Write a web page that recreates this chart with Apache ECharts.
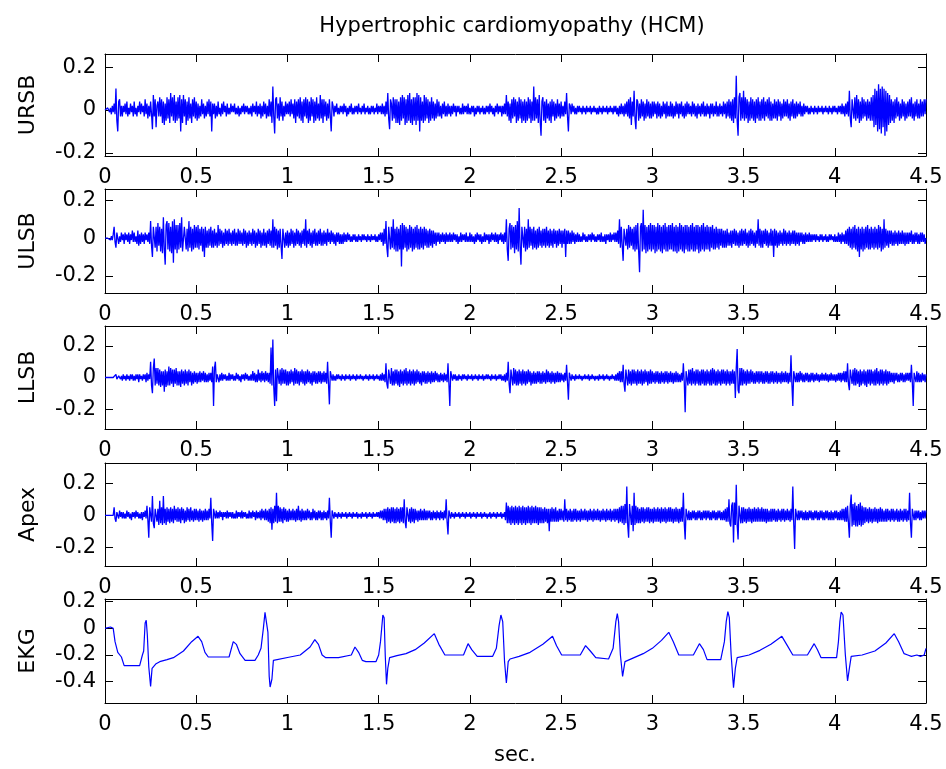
<!DOCTYPE html>
<html>
<head>
<meta charset="utf-8">
<script src="https://cdn.jsdelivr.net/npm/echarts@6/dist/echarts.min.js"></script>
<style>html,body{margin:0;padding:0;background:#fff}#c{width:946px;height:769px}</style>
</head>
<body>
<div id="c"></div>
<script>
const TIME_STEP = 0.005; // seconds between samples of the heart-sound traces (one row = 0.1 s)
const xTicks = [0,0.5,1,1.5,2,2.5,3,3.5,4,4.5];
const yTicks3 = [-0.2,0,0.2];
const yTicksEkg = [-0.4,-0.2,0,0.2];

const ursb = [
0,0,0,.01,0,-.01,.01,-.02,.02,-.01,.03,-.02,.1,-.05,-.1,.04,.05,-.03,.02,-.03,
.02,-.01,.03,-.02,.04,-.03,.01,-.02,.03,-.01,.02,-.03,.04,-.02,.01,-.03,.02,-.01,.04,-.02,
.03,-.01,.02,-.03,.05,-.02,.03,-.04,.02,-.03,.04,-.02,-.09,.07,-.03,.05,-.08,.02,.04,-.03,
.06,-.03,.05,-.06,.04,-.07,.03,-.05,.06,-.04,.05,-.06,.08,-.03,.06,-.05,.07,-.06,.04,-.05,
.06,-.04,.07,-.1,.05,-.06,.07,-.03,.05,-.07,.04,-.05,.06,-.04,.03,-.06,.05,-.03,.06,-.04,
.04,-.05,.03,-.04,.02,-.03,.05,-.02,.03,-.04,.02,-.03,.04,-.02,.05,-.03,.04,-.1,.03,-.02,
.03,-.04,.02,-.03,.04,-.02,.01,-.03,.03,-.02,.04,-.01,.02,-.03,.03,-.02,.01,-.02,.03,-.01,
.02,-.01,.03,-.02,.01,-.02,.02,-.03,.01,-.02,.02,-.01,.03,-.02,.02,-.01,.02,-.02,.01,-.02,
.02,-.03,.03,-.01,.02,-.02,.04,-.03,.02,-.02,.03,-.04,.02,-.03,.04,-.02,.03,-.04,.02,-.03,
.05,-.03,.04,-.06,.11,-.03,-.11,.05,.06,-.04,.03,-.05,.06,-.03,.04,-.05,.02,-.03,.04,-.02,
.03,-.02,.04,-.03,.05,-.02,.03,-.04,.05,-.06,.04,-.03,.05,-.04,.06,-.05,.04,-.06,.05,-.03,
.06,-.04,.05,-.06,.04,-.05,.06,-.03,.05,-.06,.04,-.05,.06,-.04,.03,-.05,.07,-.04,.05,-.06,
.05,-.03,.04,-.05,.03,-.04,.05,-.03,-.1,.04,.02,-.03,.02,-.01,.03,-.02,.01,-.02,.02,-.01,
.02,-.02,.03,-.01,.02,-.03,.01,-.02,.02,-.01,.03,-.02,.01,-.02,.02,-.01,.02,-.02,.03,-.01,
.01,-.02,.02,-.01,.03,-.02,.01,-.01,.02,-.02,.01,-.02,.02,-.01,.02,-.02,.01,-.01,.03,-.02,
.02,-.01,.02,-.02,.03,-.02,.02,-.03,.04,-.02,.08,-.04,-.09,.05,.03,-.05,.06,-.04,.05,-.06,
.05,-.06,.04,-.07,.06,-.05,.07,-.04,.06,-.07,.05,-.06,.07,-.05,.08,-.06,.05,-.07,.06,-.05,
.06,-.07,.08,-.05,.07,-.1,.06,-.05,.04,-.06,.07,-.05,.06,-.04,.05,-.06,.04,-.05,.06,-.04,
.04,-.05,.03,-.04,.05,-.03,.04,-.03,.02,-.04,.03,-.02,.04,-.03,.02,-.03,.03,-.02,.02,-.03,
.02,-.02,.03,-.01,.02,-.03,.02,-.01,.02,-.02,.01,-.02,.03,-.02,.02,-.01,.02,-.02,.03,-.02,
.01,-.02,.02,-.01,.02,-.03,.01,-.02,.02,-.01,.02,-.02,.01,-.01,.02,-.02,.01,-.02,.02,-.01,
.02,-.02,.03,-.01,.02,-.02,.01,-.03,.02,-.01,.03,-.02,.02,-.01,.02,-.03,.02,-.02,.03,-.02,
.07,-.03,.04,-.05,.03,-.06,.05,-.04,.06,-.03,.05,-.06,.04,-.05,.06,-.04,.05,-.06,.04,-.05,
.05,-.06,.04,-.05,.06,-.04,.05,-.06,.04,-.05,.11,-.05,.06,-.04,.05,-.06,.07,-.05,-.12,.04,
.06,-.05,.04,-.06,.05,-.04,.03,-.05,.04,-.06,.05,-.03,.04,-.05,.03,-.04,.05,-.03,.03,-.04,
.04,-.03,.02,-.03,.04,-.02,.08,-.03,-.1,.03,.02,-.02,.03,-.01,.02,-.02,.01,-.02,.02,-.01,
.02,-.01,.01,-.02,.02,-.01,.01,-.02,.02,-.01,.01,-.01,.02,-.02,.01,-.01,.02,-.01,.01,-.02,
.01,-.02,.02,-.01,.01,-.02,.02,-.01,.01,-.01,.02,-.02,.01,-.01,.02,-.01,.01,-.02,.02,-.01,
.02,-.02,.01,-.03,.02,-.02,.03,-.02,.02,-.03,.03,-.02,.04,-.03,.05,-.04,.06,-.07,.04,-.03,
.09,-.04,-.09,.05,.04,-.05,.03,-.04,.05,-.03,.04,-.05,.03,-.04,.05,-.03,.04,-.04,.03,-.04,
.04,-.03,.04,-.02,.03,-.04,.04,-.03,.03,-.04,.02,-.03,.04,-.02,.03,-.04,.04,-.03,.02,-.03,
.04,-.03,.03,-.04,.02,-.03,.04,-.02,.03,-.04,.03,-.02,.04,-.03,.02,-.04,.03,-.03,.04,-.02,
.03,-.02,.02,-.03,.04,-.02,.03,-.03,.02,-.04,.03,-.02,.02,-.03,.03,-.02,.04,-.03,.02,-.03,
.03,-.02,.02,-.04,.03,-.02,.03,-.03,.02,-.02,.04,-.03,.02,-.03,.03,-.02,.02,-.03,.04,-.02,
.03,-.04,.04,-.03,.05,-.04,.04,-.05,.05,-.06,.06,-.04,.16,-.05,-.12,.06,.08,-.05,.06,-.04,
.09,-.05,.06,-.04,.05,-.06,.04,-.05,.06,-.04,.05,-.05,.04,-.06,.05,-.04,.06,-.05,.04,-.05,
.05,-.04,.06,-.05,.04,-.03,.05,-.04,.06,-.05,.04,-.05,.03,-.04,.05,-.04,.04,-.05,.05,-.03,
.04,-.05,.03,-.04,.05,-.03,.04,-.03,.05,-.04,.03,-.05,.04,-.03,.05,-.04,.03,-.04,.04,-.03,
.03,-.02,.04,-.03,.02,-.03,.03,-.02,.02,-.01,.02,-.02,.01,-.02,.02,-.01,.01,-.02,.02,-.01,
.01,-.02,.02,-.01,.01,-.01,.02,-.02,.01,-.01,.02,-.01,.01,-.02,.02,-.01,.01,-.02,.02,-.01,
.02,-.01,.01,-.02,.02,-.01,.02,-.02,.03,-.02,.02,-.03,.03,-.02,.04,-.03,.09,-.04,-.08,.05,
.05,-.04,.06,-.05,.07,-.04,.05,-.06,.04,-.05,.06,-.04,.05,-.03,.04,-.05,.05,-.04,.04,-.05,
.06,-.05,.07,-.08,.1,-.07,.09,-.1,.12,-.09,.1,-.11,.11,-.08,.1,-.12,.09,-.1,.08,-.07,
.07,-.06,.05,-.05,.04,-.06,.05,-.04,.06,-.03,.04,-.05,.03,-.04,.05,-.03,.04,-.05,.03,-.04,
.04,-.03,.05,-.03,.06,-.04,.03,-.05,.04,-.03,.05,-.04,.03,-.04,.05,-.03,.04,-.03,.05,-.02,
.05];

const ulsb = [
0,0,0,0,0,.01,-.01,.01,-.01,.02,.06,-.02,-.05,.03,.02,-.03,.01,-.02,.03,-.01,
.02,-.03,.03,-.01,.02,-.02,.03,-.03,.02,-.01,.04,-.02,.03,-.02,.01,-.03,.04,-.04,.02,-.03,
.03,-.02,.02,-.03,.03,-.01,.02,-.02,.03,-.03,.09,-.04,-.1,.06,.07,-.05,.06,-.07,.08,-.04,
.06,-.07,.05,-.08,.11,-.06,-.14,.07,.09,-.06,.08,-.07,.06,-.08,.09,-.13,.1,-.06,.07,-.08,
.07,-.06,.08,-.05,.11,-.07,-.08,.06,.07,-.06,.05,-.07,.09,-.05,.06,-.07,.05,-.06,.07,-.05,
.06,-.05,.07,-.06,.05,-.04,.06,-.07,.05,-.1,.06,-.05,.04,-.05,.05,-.04,.06,-.05,.04,-.05,
.05,-.04,.03,-.05,.07,-.04,.05,-.03,.04,-.05,.03,-.04,.05,-.03,.04,-.04,.05,-.03,.03,-.04,
.04,-.03,.05,-.04,.03,-.04,.05,-.03,.04,-.03,.03,-.04,.05,-.03,.04,-.05,.03,-.04,.04,-.03,
.03,-.04,.05,-.03,.04,-.05,.03,-.04,.05,-.03,.04,-.05,.03,-.04,.05,-.04,.03,-.05,.04,-.03,
.05,-.04,.04,-.05,.1,-.05,.06,-.04,.05,-.06,.04,-.05,.05,-.04,-.11,.05,.04,-.05,.03,-.04,
.04,-.05,.03,-.04,.05,-.03,.04,-.05,.03,-.04,.05,-.03,.04,-.04,.03,-.05,.04,-.03,.05,-.04,
.1,-.05,.04,-.03,.05,-.04,.03,-.05,.04,-.03,.05,-.04,.03,-.04,.04,-.03,.05,-.04,.03,-.04,
.04,-.03,.03,-.04,.05,-.02,.03,-.03,.04,-.02,.03,-.03,.02,-.04,.03,-.02,.03,-.03,.02,-.03,
.02,-.03,.03,-.02,.02,-.02,.03,-.01,.02,-.02,.01,-.02,.02,-.01,.02,-.02,.01,-.02,.02,-.01,
.01,-.02,.02,-.01,.02,-.01,.01,-.02,.02,-.01,.01,-.02,.02,-.01,.01,-.01,.02,-.02,.01,-.02,
.02,-.01,.03,-.02,.03,-.04,.05,-.03,.09,-.05,-.1,.06,.05,-.06,.06,-.05,.1,-.06,.05,-.07,
.06,-.07,.05,-.06,.07,-.15,.08,-.06,.07,-.05,.06,-.07,.05,-.06,.07,-.05,.06,-.07,.05,-.06,
.06,-.05,.07,-.06,.05,-.06,.06,-.05,.05,-.06,.06,-.04,.05,-.05,.04,-.05,.05,-.04,.04,-.05,
.04,-.03,.03,-.04,.03,-.02,.03,-.03,.02,-.02,.03,-.02,.02,-.03,.03,-.02,.02,-.02,.03,-.02,
.02,-.02,.03,-.01,.02,-.02,.02,-.03,.01,-.02,.03,-.02,.02,-.01,.02,-.02,.03,-.02,.01,-.02,
.03,-.02,.02,-.02,.01,-.03,.02,-.02,.03,-.01,.02,-.02,.02,-.03,.01,-.02,.03,-.02,.02,-.01,
.02,-.03,.02,-.02,.03,-.01,.02,-.02,.03,-.02,.02,-.03,.02,-.01,.03,-.02,.02,-.03,.03,-.02,
.1,-.06,-.12,.05,.08,-.06,.07,-.05,.06,-.08,.07,-.06,.09,-.07,.16,-.05,-.14,.06,.07,-.05,
.06,-.07,.05,-.06,.1,-.05,.06,-.04,.05,-.06,.06,-.05,.04,-.06,.05,-.05,.06,-.04,.04,-.05,
.05,-.04,.05,-.05,.06,-.04,.04,-.05,.05,-.04,.04,-.05,.05,-.03,.04,-.05,.04,-.04,.05,-.03,
.04,-.05,.04,-.03,.05,-.1,.04,-.03,.04,-.03,.03,-.03,.04,-.02,.03,-.03,.02,-.02,.03,-.02,
.02,-.02,.01,-.02,.03,-.01,.02,-.02,.01,-.02,.02,-.01,.02,-.02,.03,-.01,.02,-.02,.01,-.02,
.02,-.01,.02,-.02,.03,-.02,.01,-.02,.02,-.03,.02,-.01,.02,-.02,.03,-.02,.02,-.01,.03,-.02,
.03,-.02,.04,-.03,.1,-.05,.06,-.04,-.12,.05,.06,-.04,.05,-.06,.07,-.05,.06,-.04,.05,-.06,
.06,-.07,.07,-.06,.08,-.07,-.18,.06,.08,-.07,.15,-.06,.07,-.08,.06,-.07,.07,-.06,.08,-.07,
.07,-.06,.07,-.08,.06,-.07,.08,-.06,.07,-.07,.06,-.08,.07,-.06,.08,-.07,.06,-.07,.07,-.06,
.07,-.06,.08,-.07,.06,-.07,.07,-.08,.06,-.07,.08,-.06,.07,-.07,.06,-.08,.07,-.06,.07,-.07,
.06,-.07,.07,-.06,.08,-.07,.06,-.07,.07,-.06,.07,-.08,.06,-.07,.07,-.06,.08,-.07,.06,-.06,
.07,-.06,.06,-.07,.06,-.05,.07,-.06,.05,-.06,.06,-.05,.05,-.06,.05,-.04,.05,-.05,.04,-.05,
.04,-.05,.05,-.04,.03,-.04,.04,-.05,.04,-.03,.05,-.04,.04,-.04,.03,-.05,.04,-.04,.05,-.04,
.04,-.03,.05,-.04,.03,-.05,.04,-.04,.05,-.03,.04,-.04,.03,-.05,.04,-.03,.1,-.04,.05,-.05,
.04,-.05,.04,-.03,.05,-.04,.04,-.05,.03,-.04,.05,-.04,.04,-.1,.05,-.04,.04,-.05,.03,-.04,
.04,-.03,.03,-.04,.05,-.03,.04,-.04,.03,-.03,.04,-.04,.03,-.03,.04,-.03,.04,-.04,.03,-.03,
.03,-.04,.03,-.02,.03,-.03,.02,-.03,.03,-.02,.02,-.02,.03,-.02,.02,-.02,.02,-.01,.02,-.02,
.02,-.01,.01,-.02,.02,-.01,.02,-.02,.01,-.01,.02,-.02,.01,-.02,.02,-.01,.02,-.01,.01,-.02,
.02,-.02,.01,-.02,.03,-.02,.02,-.03,.03,-.02,.02,-.03,.04,-.03,.05,-.04,.06,-.05,.05,-.06,
.06,-.05,.07,-.06,.05,-.07,.06,-.1,.05,-.06,.06,-.07,.05,-.06,.06,-.05,.07,-.06,.05,-.06,
.06,-.05,.05,-.06,.06,-.05,.05,-.06,.07,-.05,.06,-.07,.05,-.06,.1,-.05,.05,-.04,.04,-.05,
.04,-.03,.04,-.04,.03,-.04,.04,-.03,.03,-.04,.04,-.03,.03,-.03,.04,-.03,.03,-.04,.03,-.03,
.03,-.03,.03,-.02,.04,-.03,.02,-.03,.03,-.02,.03,-.03,.02,-.03,.03,-.02,.03,-.02,.02,-.03,
0];

const llsb = [
0,0,0,0,0,0,0,0,0,0,0,0,.02,-.01,-.02,.01,.01,-.01,.01,-.02,
.02,-.01,.01,-.02,.02,-.01,.01,-.02,.02,-.01,.02,-.02,.01,-.02,.02,-.01,.02,-.03,.02,-.01,
.01,-.02,.02,-.01,.02,-.03,.03,-.02,.02,-.01,.1,-.05,-.1,.06,.12,-.05,.06,-.04,.06,-.05,
.05,-.06,.04,-.05,.04,-.09,.05,-.06,.04,-.05,.07,-.05,.06,-.04,.05,-.06,.05,-.04,.06,-.05,
.04,-.05,.04,-.06,.05,-.04,.04,-.05,.05,-.04,.04,-.05,.05,-.03,.04,-.05,.03,-.04,.04,-.03,
.03,-.04,.03,-.03,.04,-.03,.03,-.02,.04,-.03,.03,-.03,.02,-.03,.03,-.02,.03,-.03,.07,-.18,
.06,.1,-.03,.02,.02,-.03,.02,-.02,.03,-.02,.02,-.01,.02,-.02,.01,-.02,.03,-.02,.02,-.01,
.02,-.02,.01,-.02,.03,-.01,.02,-.02,.01,-.03,.02,-.01,.02,-.02,.03,-.01,.02,-.02,.01,-.02,
.02,-.02,.04,-.02,.03,-.03,.02,-.03,.05,-.02,.03,-.03,.04,-.02,.03,-.03,.04,-.02,.03,-.03,
.03,-.04,.19,-.05,.24,-.06,-.18,.05,-.15,.06,.06,-.04,.05,-.05,.06,-.04,.05,-.04,.05,-.05,
.04,-.05,.04,-.04,.05,-.03,.04,-.05,.06,-.04,.05,-.04,.04,-.05,.04,-.03,.05,-.04,.04,-.05,
.04,-.04,.05,-.03,.04,-.04,.03,-.05,.04,-.03,.04,-.04,.03,-.04,.04,-.03,.04,-.04,.03,-.03,
.04,-.03,.03,-.04,.1,-.04,-.17,.04,.03,-.02,.02,-.02,.01,-.02,.02,-.01,.02,-.01,.01,-.02,
.02,-.01,.01,-.02,.02,-.01,.01,-.01,.02,-.02,.01,-.01,.02,-.01,.01,-.02,.02,-.01,.01,-.01,
.02,-.01,.01,-.02,.01,-.01,.02,-.01,.01,-.02,.02,-.01,.01,-.01,.02,-.02,.01,-.01,.02,-.01,
.01,-.02,.02,-.02,.03,-.02,.02,-.03,.09,-.04,-.07,.05,.05,-.04,.06,-.05,.04,-.05,.05,-.04,
.05,-.05,.04,-.06,.05,-.04,.04,-.05,.05,-.04,.06,-.05,.04,-.04,.05,-.05,.04,-.04,.05,-.05,
.04,-.04,.05,-.03,.04,-.04,.03,-.05,.04,-.03,.04,-.04,.03,-.04,.04,-.03,.03,-.04,.04,-.03,
.03,-.03,.04,-.02,.03,-.03,.02,-.03,.03,-.02,.02,-.03,.03,-.02,.02,-.03,.09,-.04,-.18,.04,
.03,-.02,.02,-.01,.02,-.02,.01,-.02,.02,-.01,.01,-.02,.02,-.01,.02,-.01,.01,-.02,.02,-.01,
.01,-.01,.02,-.02,.01,-.01,.02,-.01,.01,-.02,.02,-.01,.01,-.01,.02,-.02,.01,-.01,.02,-.01,
.02,-.01,.01,-.02,.02,-.01,.01,-.01,.02,-.02,.01,-.01,.02,-.01,.02,-.02,.01,-.02,.02,-.03,
.03,-.02,.1,-.04,-.1,.05,.04,-.05,.06,-.04,.05,-.05,.04,-.05,.05,-.04,.04,-.05,.05,-.04,
.04,-.05,.04,-.04,.05,-.03,.04,-.05,.03,-.04,.04,-.04,.03,-.04,.04,-.03,.04,-.04,.03,-.04,
.04,-.03,.03,-.04,.05,-.03,.04,-.03,.03,-.04,.04,-.03,.03,-.04,.03,-.03,.04,-.03,.03,-.03,
.03,-.02,.02,-.03,.03,-.02,.08,-.03,-.14,.03,.02,-.02,.02,-.01,.01,-.02,.02,-.01,.01,-.01,
.02,-.01,.01,-.02,.01,-.01,.02,-.01,.01,-.01,.02,-.02,.01,-.01,.02,-.01,.01,-.02,.01,-.01,
.01,-.02,.02,-.01,.01,-.01,.02,-.02,.01,-.01,.02,-.01,.01,-.02,.01,-.01,.02,-.01,.01,-.02,
.02,-.02,.03,-.02,.04,-.03,.04,-.03,.08,-.04,-.09,.05,.06,-.05,.05,-.04,.04,-.05,.05,-.04,
.05,-.04,.04,-.05,.05,-.04,.04,-.04,.05,-.05,.04,-.04,.05,-.03,.04,-.05,.04,-.04,.05,-.04,
.04,-.03,.03,-.04,.04,-.03,.04,-.04,.03,-.04,.04,-.03,.03,-.04,.04,-.03,.04,-.04,.03,-.03,
.04,-.03,.03,-.04,.03,-.03,.04,-.03,.03,-.03,.02,-.03,.03,-.02,.09,-.03,-.22,.04,.04,-.05,
.05,-.04,.05,-.05,.06,-.04,.04,-.05,.05,-.04,.05,-.05,.04,-.05,.05,-.04,.05,-.05,.04,-.05,
.05,-.04,.04,-.05,.05,-.05,.06,-.04,.05,-.05,.04,-.05,.05,-.04,.04,-.05,.05,-.04,.05,-.04,
.04,-.05,.05,-.04,.04,-.05,.04,-.04,.05,-.04,.04,-.13,.06,.18,-.08,-.1,.06,-.05,.06,-.05,
.05,-.04,.04,-.05,.05,-.04,.04,-.04,.05,-.03,.04,-.04,.03,-.04,.04,-.03,.04,-.04,.04,-.03,
.04,-.04,.03,-.04,.04,-.03,.04,-.04,.03,-.04,.04,-.03,.04,-.04,.03,-.03,.04,-.04,.03,-.03,
.03,-.04,.04,-.03,.03,-.03,.04,-.03,.03,-.04,.03,-.03,.14,-.04,-.18,.04,.04,-.03,.03,-.03,
.03,-.03,.04,-.02,.03,-.03,.02,-.03,.03,-.02,.03,-.03,.02,-.03,.03,-.02,.03,-.03,.02,-.02,
.03,-.02,.02,-.03,.02,-.02,.03,-.02,.02,-.02,.03,-.02,.02,-.03,.02,-.02,.03,-.02,.02,-.02,
.02,-.03,.02,-.02,.03,-.02,.03,-.03,.03,-.02,.04,-.03,.04,-.03,.09,-.04,-.08,.05,.05,-.04,
.05,-.05,.06,-.05,.05,-.04,.04,-.06,.05,-.05,.04,-.04,.05,-.05,.04,-.06,.05,-.04,.05,-.05,
.05,-.04,.04,-.05,.05,-.05,.06,-.04,.04,-.05,.05,-.04,.05,-.05,.04,-.04,.05,-.05,.04,-.04,
.04,-.03,.03,-.03,.03,-.04,.03,-.02,.03,-.03,.02,-.03,.03,-.02,.03,-.03,.02,-.03,.03,-.02,
.03,-.02,.03,-.03,.08,-.03,-.18,.03,.03,-.03,.04,-.03,.03,-.03,.02,-.03,.03,-.02,.02,-.03,
.02];

const apex = [
0,0,0,0,0,0,0,0,0,0,.05,-.02,-.04,.02,.02,-.02,.03,-.01,.02,-.02,
.02,-.02,.01,-.02,.03,-.01,.02,-.02,.01,-.03,.02,-.01,.02,-.02,.03,-.01,.02,-.02,.01,-.02,
.02,-.03,.02,-.01,.03,-.02,.06,-.03,-.14,.05,.06,-.04,.12,-.05,-.08,.04,.05,-.04,.04,-.06,
.09,-.05,.05,-.06,.12,-.05,.04,-.06,.05,-.04,.04,-.05,.05,-.04,.04,-.05,.06,-.03,.04,-.04,
.05,-.04,.04,-.05,.05,-.03,.04,-.05,.03,-.04,.05,-.03,.04,-.04,.05,-.03,.03,-.04,.04,-.03,
.04,-.03,.03,-.04,.04,-.03,.03,-.04,.03,-.03,.04,-.03,.03,-.03,.04,-.02,.11,-.05,-.16,.04,
.03,-.02,.03,-.02,.02,-.02,.03,-.01,.02,-.03,.02,-.01,.02,-.02,.03,-.02,.02,-.01,.02,-.02,
.02,-.02,.01,-.02,.03,-.02,.02,-.01,.02,-.02,.03,-.02,.02,-.01,.02,-.02,.01,-.02,.03,-.02,
.02,-.02,.03,-.01,.02,-.03,.03,-.02,.02,-.02,.03,-.03,.04,-.02,.03,-.03,.04,-.03,.03,-.04,
.04,-.05,.05,-.09,.04,-.05,.06,-.04,.14,-.05,.06,-.04,.05,-.04,.04,-.05,.05,-.03,.04,-.04,
.03,-.04,.04,-.03,.03,-.03,.04,-.03,.03,-.04,.04,-.03,.06,-.03,.03,-.04,.04,-.03,.03,-.03,
.03,-.03,.04,-.02,.03,-.03,.02,-.03,.04,-.02,.03,-.03,.02,-.03,.03,-.02,.03,-.03,.02,-.03,
.03,-.02,.02,-.03,.03,-.02,.11,-.04,-.14,.03,.02,-.02,.02,-.01,.01,-.02,.02,-.01,.01,-.02,
.02,-.01,.01,-.01,.02,-.02,.01,-.01,.02,-.01,.01,-.02,.02,-.01,.01,-.01,.02,-.02,.01,-.01,
.01,-.02,.02,-.01,.01,-.01,.02,-.02,.01,-.01,.02,-.01,.01,-.02,.02,-.01,.01,-.01,.02,-.01,
.02,-.02,.03,-.02,.03,-.03,.04,-.03,.04,-.05,.05,-.04,.04,-.05,.05,-.04,.05,-.05,.04,-.05,
.05,-.04,.04,-.05,.05,-.04,.05,-.05,.1,-.04,-.08,.05,.05,-.04,.04,-.05,.05,-.04,.04,-.05,
.04,-.03,.03,-.04,.03,-.03,.04,-.03,.03,-.03,.04,-.03,.03,-.03,.03,-.02,.03,-.03,.02,-.03,
.03,-.02,.02,-.03,.03,-.02,.02,-.03,.03,-.02,.02,-.03,.03,-.02,.1,-.04,-.12,.03,.02,-.02,
.02,-.01,.01,-.02,.02,-.01,.01,-.01,.02,-.02,.01,-.01,.02,-.01,.01,-.02,.02,-.01,.01,-.01,
.02,-.02,.01,-.01,.02,-.01,.01,-.02,.02,-.01,.01,-.01,.02,-.02,.01,-.01,.02,-.01,.01,-.02,
.01,-.01,.02,-.02,.01,-.01,.02,-.01,.01,-.02,.02,-.01,.01,-.01,.02,-.02,.01,-.01,.02,-.03,
.08,-.05,.06,-.05,.05,-.06,.06,-.05,.05,-.06,.06,-.05,.05,-.06,.06,-.05,.05,-.06,.06,-.05,
.05,-.06,.05,-.05,.06,-.05,.05,-.06,.06,-.05,.05,-.05,.06,-.05,.05,-.06,.05,-.05,.05,-.05,
.04,-.05,.05,-.04,.04,-.05,.04,-.1,.04,-.04,.05,-.04,.04,-.04,.05,-.04,.03,-.04,.04,-.03,
.04,-.03,.03,-.04,.1,-.03,.04,-.04,.03,-.03,.04,-.04,.03,-.04,.04,-.03,.04,-.04,.03,-.03,
.03,-.04,.04,-.03,.03,-.03,.04,-.03,.03,-.04,.03,-.03,.04,-.03,.03,-.04,.04,-.03,.03,-.03,
.04,-.03,.03,-.04,.03,-.03,.04,-.03,.03,-.04,.04,-.03,.03,-.03,.04,-.04,.03,-.03,.04,-.04,
.04,-.03,.04,-.05,.05,-.04,.06,-.05,.06,-.06,.07,-.05,.18,-.06,-.14,.07,.07,-.06,.06,-.1,
.14,-.06,.06,-.05,.05,-.05,.04,-.05,.05,-.04,.05,-.05,.04,-.04,.05,-.04,.05,-.05,.04,-.04,
.04,-.05,.05,-.04,.04,-.04,.05,-.04,.04,-.05,.05,-.04,.04,-.04,.05,-.05,.04,-.04,.05,-.04,
.05,-.04,.04,-.05,.04,-.04,.05,-.04,.04,-.05,.04,-.04,.05,-.04,.14,-.05,-.15,.04,.04,-.03,
.03,-.03,.02,-.03,.03,-.02,.03,-.03,.02,-.03,.03,-.02,.03,-.03,.02,-.03,.03,-.02,.03,-.03,
.03,-.02,.03,-.03,.02,-.03,.03,-.02,.03,-.03,.02,-.03,.03,-.02,.03,-.03,.02,-.03,.03,-.03,
.04,-.04,.05,-.04,.1,-.05,-.07,.06,.08,-.17,.08,-.06,.19,-.06,-.15,.06,.06,-.05,.05,-.05,
.05,-.04,.04,-.05,.04,-.04,.05,-.04,.04,-.05,.04,-.04,.05,-.04,.04,-.04,.05,-.04,.04,-.04,
.05,-.04,.04,-.04,.04,-.05,.04,-.04,.03,-.04,.04,-.04,.04,-.03,.04,-.04,.03,-.04,.04,-.03,
.03,-.04,.04,-.03,.04,-.04,.03,-.03,.04,-.03,.03,-.04,.04,-.03,.18,-.05,-.21,.04,.04,-.03,
.03,-.03,.03,-.02,.03,-.03,.02,-.03,.03,-.03,.02,-.03,.03,-.02,.03,-.03,.02,-.03,.03,-.02,
.03,-.03,.02,-.03,.03,-.02,.03,-.03,.02,-.03,.03,-.02,.03,-.03,.02,-.03,.03,-.03,.02,-.03,
.03,-.02,.03,-.03,.02,-.03,.03,-.03,.04,-.03,.04,-.04,.05,-.04,.06,-.05,-.14,.06,.13,-.07,
.07,-.06,.08,-.07,.06,-.07,.07,-.06,.08,-.07,.06,-.06,.05,-.05,.05,-.04,.04,-.05,.05,-.04,
.04,-.05,.04,-.04,.05,-.04,.04,-.05,.04,-.04,.05,-.04,.04,-.04,.03,-.04,.04,-.04,.04,-.03,
.03,-.04,.04,-.03,.04,-.04,.03,-.03,.04,-.04,.03,-.04,.04,-.03,.03,-.04,.04,-.03,.04,-.04,
.03,-.03,.14,-.05,-.14,.04,.04,-.03,.03,-.03,.03,-.02,.03,-.03,.02,-.03,.03,-.02,.03,-.02,
.03];

// EKG: [time (s), value]
const ekg = [
[0,0],[0.03,0.01],[0.045,0],[0.055,-0.1],[0.07,-0.18],[0.09,-0.215],[0.105,-0.28],[0.19,-0.28],[0.205,-0.2],[0.212,-0.17],
[0.22,0.04],[0.226,0.06],[0.232,-0.05],[0.24,-0.29],[0.25,-0.435],[0.258,-0.3],[0.265,-0.31],[0.28,-0.265],[0.3,-0.25],[0.34,-0.235],
[0.375,-0.22],[0.43,-0.17],[0.475,-0.1],[0.51,-0.06],[0.53,-0.1],[0.548,-0.18],[0.566,-0.215],[0.68,-0.215],[0.703,-0.1],[0.72,-0.12],
[0.74,-0.19],[0.768,-0.24],[0.822,-0.24],[0.84,-0.2],[0.855,-0.15],[0.868,0],[0.877,0.12],[0.882,0.13],[0.893,-0.03],[0.9,-0.36],
[0.905,-0.44],[0.915,-0.38],[0.923,-0.24],[0.93,-0.23],[1.014,-0.215],[1.07,-0.2],[1.124,-0.14],[1.15,-0.085],[1.17,-0.12],[1.19,-0.2],
[1.21,-0.22],[1.28,-0.22],[1.35,-0.2],[1.37,-0.14],[1.39,-0.18],[1.41,-0.24],[1.43,-0.25],[1.485,-0.25],[1.5,-0.2],[1.51,-0.1],
[1.523,0.1],[1.53,0.08],[1.536,-0.2],[1.543,-0.42],[1.55,-0.3],[1.56,-0.22],[1.6,-0.205],[1.65,-0.19],[1.7,-0.16],[1.75,-0.11],
[1.805,-0.04],[1.83,-0.12],[1.863,-0.2],[1.965,-0.2],[1.99,-0.115],[2.01,-0.16],[2.04,-0.21],[2.125,-0.21],[2.145,-0.15],[2.16,0.02],
[2.17,0.1],[2.18,0.05],[2.19,-0.25],[2.2,-0.41],[2.21,-0.25],[2.22,-0.23],[2.27,-0.21],[2.33,-0.18],[2.4,-0.12],[2.453,-0.06],
[2.475,-0.13],[2.503,-0.2],[2.605,-0.2],[2.634,-0.13],[2.66,-0.17],[2.69,-0.22],[2.76,-0.23],[2.785,-0.15],[2.8,0.05],[2.808,0.11],
[2.815,0.05],[2.825,-0.2],[2.837,-0.36],[2.85,-0.25],[2.9,-0.22],[2.95,-0.19],[3.0,-0.15],[3.05,-0.09],[3.09,-0.03],[3.115,-0.1],
[3.145,-0.2],[3.225,-0.2],[3.258,-0.115],[3.28,-0.16],[3.3,-0.235],[3.375,-0.235],[3.395,-0.1],[3.405,0.05],[3.414,0.125],[3.422,0.08],
[3.432,-0.2],[3.445,-0.445],[3.455,-0.3],[3.465,-0.22],[3.53,-0.2],[3.59,-0.165],[3.65,-0.12],[3.71,-0.06],[3.74,-0.13],[3.77,-0.2],
[3.85,-0.2],[3.887,-0.115],[3.905,-0.16],[3.925,-0.22],[4.01,-0.22],[4.02,-0.1],[4.028,0.05],[4.035,0.122],[4.045,0.1],[4.058,-0.2],
[4.07,-0.395],[4.08,-0.3],[4.09,-0.21],[4.15,-0.2],[4.22,-0.17],[4.28,-0.11],[4.326,-0.04],[4.35,-0.1],[4.38,-0.19],[4.4,-0.2],
[4.42,-0.21],[4.45,-0.2],[4.47,-0.21],[4.49,-0.2],[4.5,-0.15]
];

const panelNames = ['URSB','ULSB','LLSB','Apex','EKG'];
const yMins = [-0.215,-0.29,-0.326,-0.316,-0.56];
const yMaxs = [0.262,0.26,0.326,0.326,0.22];

function toPairs(arr){ return arr.map((v,i)=>[Math.round(i*TIME_STEP*10000)/10000, v]); }
const seriesData = [toPairs(ursb), toPairs(ulsb), toPairs(llsb), toPairs(apex), ekg];
const yTickSets = [yTicks3, yTicks3, yTicks3, yTicks3, yTicksEkg];

const FONT = 'DejaVu Sans';
const gridTops = [54,189,326,463,599];
const gridHeights = [102,104,103,103,104];
const LEFT = 105, WIDTH = 821;

const grids = [], xAxes = [], yAxes = [], series = [];
for (let i=0;i<5;i++){
  grids.push({left:LEFT, top:gridTops[i], width:WIDTH, height:gridHeights[i], show:false});
  const xBase = {gridIndex:i, type:'value', min:0, max:4.5, splitLine:{show:false},
    axisLine:{show:true, onZero:false, lineStyle:{color:'#000', width:1}},
    axisTick:{show:true, inside:true, length:8, customValues:xTicks, lineStyle:{color:'#000'}}};
  xAxes.push(Object.assign({}, xBase, {position:'bottom',
    axisLabel:{show:true, customValues:xTicks, margin:11, color:'#000', fontSize:21, fontFamily:FONT}}));
  xAxes.push(Object.assign({}, xBase, {position:'top', axisLabel:{show:false}}));
  const yBase = {gridIndex:i, type:'value', min:yMins[i], max:yMaxs[i], splitLine:{show:false},
    axisLine:{show:true, onZero:false, lineStyle:{color:'#000', width:1}},
    axisTick:{show:true, inside:true, length:8, customValues:yTickSets[i], lineStyle:{color:'#000'}}};
  yAxes.push(Object.assign({}, yBase, {position:'left',
    name:panelNames[i], nameLocation:'middle', nameRotate:90, nameGap:66,
    nameTextStyle:{color:'#000', fontSize:22, fontFamily:FONT},
    axisLabel:{show:true, customValues:yTickSets[i], margin:9, color:'#000', fontSize:21, fontFamily:FONT}}));
  yAxes.push(Object.assign({}, yBase, {position:'right', axisLabel:{show:false}}));
  series.push({type:'line', xAxisIndex:2*i, yAxisIndex:2*i, data:seriesData[i],
    showSymbol:false, symbol:'none', sampling:null, animation:false,
    lineStyle:{color:'#0000ff', width: i<4 ? 1.3 : 1.2}});
}

const chart = echarts.init(document.getElementById('c'), null, {renderer:'canvas'});
chart.setOption({
  backgroundColor:'#fff',
  animation:false,
  grid:grids, xAxis:xAxes, yAxis:yAxes, series:series,
  graphic:[
    {type:'text', x:512, y:27, style:{text:'Hypertrophic cardiomyopathy (HCM)', fill:'#000', font:'21px "DejaVu Sans"', textAlign:'center', textVerticalAlign:'middle'}},
    {type:'text', x:515, y:756, style:{text:'sec.', fill:'#000', font:'21px "DejaVu Sans"', textAlign:'center', textVerticalAlign:'middle'}}
  ]
});
</script>
</body>
</html>
